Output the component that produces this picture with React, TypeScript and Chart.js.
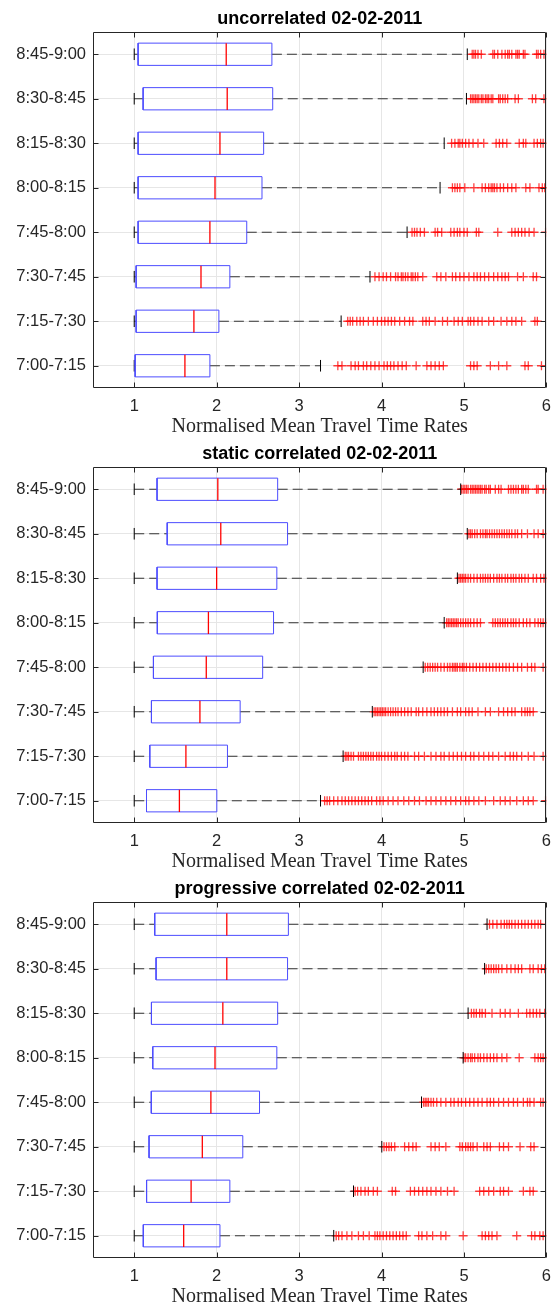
import React, { useEffect, useRef } from 'react';
import { Chart, registerables } from 'chart.js';

Chart.register(...registerables);

const categories = ['7:00-7:15', '7:15-7:30', '7:30-7:45', '7:45-8:00', '8:00-8:15', '8:15-8:30', '8:30-8:45', '8:45-9:00'];
const xTickValues = [1, 2, 3, 4, 5, 6];
const xAxisTitle = 'Normalised Mean Travel Time Rates';
const panelTitles = ['uncorrelated 02-02-2011', 'static correlated 02-02-2011', 'progressive correlated 02-02-2011'];

// ---------- uncorrelated ----------
const uncorrelatedLower = [1, 1, 1, 1, 1, 1, 1, 1];
const uncorrelatedQ1 = [1.011, 1.023, 1.023, 1.047, 1.047, 1.047, 1.108, 1.047];
const uncorrelatedMedian = [1.615, 1.724, 1.81, 1.918, 1.98, 2.04, 2.128, 2.116];
const uncorrelatedQ3 = [1.918, 2.027, 2.16, 2.365, 2.55, 2.57, 2.68, 2.67];
const uncorrelatedUpper = [3.26, 3.51, 3.86, 4.31, 4.71, 4.76, 5.03, 5.04];
const uncorrelatedOutliers = [
  [3.47, 3.52, 3.63, 3.68, 3.72, 3.78, 3.82, 3.87, 3.92, 3.97, 4.03, 4.07, 4.11, 4.15, 4.2, 4.25, 4.3, 4.42, 4.55, 4.6, 4.65, 4.7, 4.75, 5.08, 5.12, 5.16, 5.32, 5.42, 5.52, 5.74, 5.78, 5.94],
  [3.59, 3.62, 3.65, 3.7, 3.74, 3.78, 3.84, 3.9, 3.95, 4.0, 4.04, 4.08, 4.12, 4.16, 4.22, 4.28, 4.34, 4.38, 4.5, 4.54, 4.58, 4.65, 4.74, 4.8, 4.88, 4.93, 4.98, 5.05, 5.08, 5.12, 5.17, 5.22, 5.3, 5.36, 5.45, 5.52, 5.58, 5.63, 5.7, 5.86, 5.89],
  [3.92, 3.97, 4.02, 4.06, 4.11, 4.17, 4.2, 4.24, 4.26, 4.29, 4.32, 4.36, 4.38, 4.41, 4.44, 4.5, 4.67, 4.72, 4.78, 4.86, 4.9, 4.95, 5.0, 5.06, 5.12, 5.16, 5.2, 5.25, 5.3, 5.36, 5.41, 5.46, 5.5, 5.54, 5.65, 5.72, 5.84, 5.88],
  [4.37, 4.4, 4.43, 4.47, 4.52, 4.65, 4.68, 4.73, 4.84, 4.88, 4.92, 4.95, 5.0, 5.04, 5.15, 5.18, 5.41, 5.58, 5.62, 5.66, 5.7, 5.74, 5.79, 5.85, 5.99],
  [4.86, 4.89, 4.92, 4.95, 5.01, 5.12, 5.22, 5.26, 5.3, 5.33, 5.35, 5.37, 5.4, 5.44, 5.48, 5.53, 5.58, 5.63, 5.75, 5.8, 5.91, 5.95, 5.98],
  [4.85, 4.89, 4.93, 4.95, 4.98, 5.02, 5.06, 5.11, 5.17, 5.24, 5.39, 5.43, 5.47, 5.52, 5.67, 5.72, 5.75, 5.85, 5.89, 5.93, 5.96],
  [5.08, 5.1, 5.12, 5.14, 5.16, 5.18, 5.21, 5.23, 5.26, 5.28, 5.3, 5.33, 5.35, 5.42, 5.44, 5.47, 5.5, 5.53, 5.62, 5.66, 5.83, 5.87, 5.97],
  [5.1, 5.12, 5.14, 5.17, 5.21, 5.35, 5.37, 5.41, 5.46, 5.5, 5.53, 5.55, 5.58, 5.63, 5.65, 5.67, 5.72, 5.74, 5.88, 5.9, 5.93, 5.97],
];

// ---------- static correlated ----------
const staticLower = [1, 1, 1, 1, 1, 1, 1, 1];
const staticQ1 = [1.149, 1.189, 1.209, 1.233, 1.28, 1.277, 1.4, 1.277];
const staticMedian = [1.548, 1.627, 1.797, 1.874, 1.9, 2.0, 2.05, 2.014];
const staticQ3 = [2.002, 2.131, 2.285, 2.558, 2.69, 2.73, 2.86, 2.74];
const staticUpper = [3.26, 3.534, 3.888, 4.505, 4.76, 4.92, 5.04, 4.96];
const staticOutliers = [
  [3.31, 3.34, 3.37, 3.42, 3.47, 3.52, 3.56, 3.6, 3.64, 3.68, 3.72, 3.76, 3.8, 3.84, 3.88, 3.94, 3.98, 4.02, 4.08, 4.14, 4.2, 4.27, 4.33, 4.4, 4.46, 4.54, 4.6, 4.66, 4.72, 4.78, 4.84, 4.9, 4.96, 5.02, 5.06, 5.12, 5.18, 5.26, 5.36, 5.44, 5.5, 5.56, 5.64, 5.72, 5.78, 5.84, 5.99],
  [3.56, 3.58, 3.6, 3.63, 3.66, 3.72, 3.75, 3.78, 3.81, 3.84, 3.87, 3.9, 3.94, 3.97, 4.0, 4.04, 4.08, 4.12, 4.16, 4.19, 4.24, 4.28, 4.32, 4.4, 4.45, 4.52, 4.6, 4.66, 4.72, 4.76, 4.82, 4.87, 4.92, 4.97, 5.02, 5.08, 5.12, 5.18, 5.24, 5.3, 5.35, 5.42, 5.5, 5.56, 5.6, 5.64, 5.7, 5.78, 5.85, 5.96],
  [3.91, 3.93, 3.95, 3.97, 3.99, 4.01, 4.03, 4.05, 4.08, 4.11, 4.14, 4.17, 4.2, 4.24, 4.28, 4.32, 4.36, 4.42, 4.45, 4.5, 4.55, 4.6, 4.64, 4.68, 4.72, 4.76, 4.8, 4.86, 4.92, 4.96, 5.02, 5.06, 5.1, 5.17, 5.26, 5.32, 5.42, 5.48, 5.53, 5.58, 5.62, 5.7, 5.74, 5.77, 5.8, 5.84],
  [4.53, 4.56, 4.59, 4.62, 4.65, 4.68, 4.72, 4.76, 4.8, 4.83, 4.86, 4.88, 4.9, 4.92, 4.95, 4.98, 5.0, 5.03, 5.07, 5.11, 5.15, 5.19, 5.23, 5.27, 5.31, 5.35, 5.39, 5.43, 5.47, 5.51, 5.55, 5.6, 5.65, 5.7, 5.77, 5.82, 5.86, 5.96],
  [4.79, 4.81, 4.83, 4.85, 4.87, 4.89, 4.91, 4.93, 4.96, 4.99, 5.02, 5.05, 5.08, 5.12, 5.16, 5.2, 5.35, 5.38, 5.41, 5.44, 5.47, 5.5, 5.53, 5.57, 5.6, 5.63, 5.67, 5.72, 5.76, 5.8, 5.86, 5.9, 5.93, 5.96, 5.99],
  [4.94, 4.96, 4.98, 5.0, 5.02, 5.05, 5.08, 5.12, 5.16, 5.2, 5.23, 5.26, 5.29, 5.32, 5.36, 5.4, 5.43, 5.46, 5.5, 5.53, 5.57, 5.6, 5.63, 5.67, 5.7, 5.74, 5.78, 5.84, 5.88, 5.93, 5.97, 5.99],
  [5.06, 5.08, 5.1, 5.13, 5.16, 5.2, 5.23, 5.26, 5.28, 5.31, 5.34, 5.37, 5.4, 5.43, 5.46, 5.49, 5.52, 5.55, 5.58, 5.62, 5.65, 5.7, 5.77, 5.85, 5.9, 5.96],
  [4.97, 4.99, 5.01, 5.03, 5.05, 5.08, 5.1, 5.12, 5.14, 5.16, 5.18, 5.2, 5.22, 5.25, 5.27, 5.3, 5.32, 5.38, 5.42, 5.45, 5.54, 5.57, 5.6, 5.63, 5.66, 5.7, 5.72, 5.75, 5.78, 5.88, 5.9, 5.96, 5.99],
];

// ---------- progressive correlated ----------
const progressiveLower = [1, 1, 1, 1, 1, 1, 1, 1];
const progressiveQ1 = [1.11, 1.15, 1.18, 1.207, 1.225, 1.209, 1.265, 1.249];
const progressiveMedian = [1.6, 1.69, 1.826, 1.93, 1.98, 2.075, 2.123, 2.123];
const progressiveQ3 = [2.04, 2.16, 2.317, 2.52, 2.73, 2.74, 2.86, 2.87];
const progressiveUpper = [3.42, 3.66, 4.003, 4.485, 4.99, 5.05, 5.25, 5.28];
const progressiveOutliers = [
  [3.45, 3.48, 3.52, 3.58, 3.64, 3.72, 3.78, 3.85, 3.92, 3.95, 3.98, 4.02, 4.06, 4.1, 4.14, 4.18, 4.22, 4.26, 4.3, 4.45, 4.49, 4.55, 4.62, 4.72, 4.78, 4.99, 5.22, 5.26, 5.3, 5.34, 5.4, 5.64, 5.82, 5.86, 5.92, 5.96],
  [3.68, 3.71, 3.75, 3.8, 3.84, 3.9, 3.95, 4.13, 4.17, 4.35, 4.4, 4.45, 4.5, 4.55, 4.6, 4.66, 4.72, 4.8, 4.88, 5.19, 5.24, 5.3, 5.36, 5.44, 5.48, 5.54, 5.72, 5.8, 5.84],
  [4.03, 4.06, 4.09, 4.12, 4.16, 4.28, 4.33, 4.38, 4.42, 4.6, 4.65, 4.7, 4.78, 4.95, 4.98, 5.02, 5.05, 5.08, 5.11, 5.16, 5.24, 5.28, 5.32, 5.43, 5.48, 5.54, 5.68, 5.81, 5.85],
  [4.51, 4.53, 4.55, 4.57, 4.6, 4.63, 4.67, 4.72, 4.78, 4.84, 4.88, 4.93, 4.97, 5.02, 5.07, 5.12, 5.17, 5.22, 5.28, 5.32, 5.36, 5.42, 5.48, 5.54, 5.6, 5.65, 5.72, 5.77, 5.8, 5.85, 5.93, 5.96],
  [5.0, 5.02, 5.05, 5.08, 5.1, 5.13, 5.17, 5.2, 5.24, 5.28, 5.32, 5.36, 5.4, 5.46, 5.52, 5.67, 5.86, 5.9, 5.93, 5.96, 5.99],
  [5.09, 5.12, 5.15, 5.19, 5.22, 5.26, 5.34, 5.44, 5.5, 5.56, 5.66, 5.76, 5.8, 5.84, 5.88, 5.92, 5.98],
  [5.27, 5.3, 5.33, 5.36, 5.39, 5.42, 5.46, 5.52, 5.57, 5.62, 5.66, 5.7, 5.8, 5.84, 5.9, 5.94, 5.98],
  [5.31, 5.35, 5.4, 5.45, 5.49, 5.52, 5.55, 5.58, 5.62, 5.66, 5.7, 5.74, 5.78, 5.82, 5.86, 5.9, 5.93],
];

const panels = [
  { title: panelTitles[0], lower: uncorrelatedLower, q1: uncorrelatedQ1, median: uncorrelatedMedian, q3: uncorrelatedQ3, upper: uncorrelatedUpper, outliers: uncorrelatedOutliers },
  { title: panelTitles[1], lower: staticLower, q1: staticQ1, median: staticMedian, q3: staticQ3, upper: staticUpper, outliers: staticOutliers },
  { title: panelTitles[2], lower: progressiveLower, q1: progressiveQ1, median: progressiveMedian, q3: progressiveQ3, upper: progressiveUpper, outliers: progressiveOutliers },
];

const AXIS_COLOR = '#262626';
const GRID_COLOR = '#e6e6e6';
const BOX_HALF = 0.25;
const CAP_HALF = 0.13;

const gap = () => ({ x: null as any, y: null as any });

function buildDatasets(p: typeof panels[number]) {
  const whiskers: any[] = [];
  const boxes: any[] = [];
  const medians: any[] = [];
  const caps: any[] = [];
  const outl: any[] = [];
  p.q1.forEach((q1, k) => {
    const y = k + 1;
    const q3 = p.q3[k];
    const lo = p.lower[k];
    const hi = p.upper[k];
    const m = p.median[k];
    whiskers.push({ x: lo, y }, { x: q1, y }, gap(), { x: q3, y }, { x: hi, y }, gap());
    boxes.push({ x: q1, y: y - BOX_HALF }, { x: q3, y: y - BOX_HALF }, { x: q3, y: y + BOX_HALF }, { x: q1, y: y + BOX_HALF }, { x: q1, y: y - BOX_HALF }, gap());
    medians.push({ x: m, y: y - BOX_HALF }, { x: m, y: y + BOX_HALF }, gap());
    caps.push({ x: lo, y: y - CAP_HALF }, { x: lo, y: y + CAP_HALF }, gap(), { x: hi, y: y - CAP_HALF }, { x: hi, y: y + CAP_HALF }, gap());
    p.outliers[k].forEach((v) => outl.push({ x: v, y }));
  });
  const lineBase = { type: 'line', showLine: true, pointRadius: 0, pointHoverRadius: 0, spanGaps: false, fill: false, tension: 0 };
  return [
    { ...lineBase, label: 'median', data: medians, borderColor: '#ff0000', borderWidth: 1.3 },
    { ...lineBase, label: 'box', data: boxes, borderColor: '#4d4dff', borderWidth: 1 },
    { ...lineBase, label: 'caps', data: caps, borderColor: '#000000', borderWidth: 1 },
    { ...lineBase, label: 'whiskers', data: whiskers, borderColor: '#333333', borderWidth: 1, borderDash: [10, 5] },
    { type: 'scatter', label: 'outliers', data: outl, pointStyle: 'cross', pointRadius: 4.5, pointHoverRadius: 4.5, pointBorderWidth: 1.3, borderColor: 'rgba(255,0,0,0.75)', backgroundColor: 'rgba(255,0,0,0.75)', showLine: false },
  ];
}

const framePlugin = {
  id: 'matlabFrame',
  afterDatasetsDraw(chart: any) {
    const { ctx, chartArea: a, scales } = chart;
    const L = Math.round(a.left) + 0.5;
    const R = Math.round(a.right) - 0.5;
    const T = Math.round(a.top) + 0.5;
    const B = Math.round(a.bottom) - 0.5;
    ctx.save();
    ctx.strokeStyle = AXIS_COLOR;
    ctx.lineWidth = 1;
    ctx.setLineDash([]);
    ctx.beginPath();
    ctx.rect(L, T, R - L, B - T);
    xTickValues.forEach((v) => {
      const px = Math.round(scales.x.getPixelForValue(v)) + 0.5;
      ctx.moveTo(px, B);
      ctx.lineTo(px, B - 5);
      ctx.moveTo(px, T);
      ctx.lineTo(px, T + 5);
    });
    categories.forEach((_, i) => {
      const py = Math.round(scales.y.getPixelForValue(i + 1)) + 0.5;
      ctx.moveTo(L, py);
      ctx.lineTo(L + 5, py);
      ctx.moveTo(R, py);
      ctx.lineTo(R - 5, py);
    });
    ctx.stroke();
    ctx.restore();
  },
};

function Panel({ panel }: { panel: typeof panels[number] }) {
  const ref = useRef<HTMLCanvasElement>(null);
  useEffect(() => {
    const chart = new Chart(ref.current as HTMLCanvasElement, {
      type: 'scatter',
      data: { datasets: buildDatasets(panel) as any },
      options: {
        animation: false,
        responsive: false,
        devicePixelRatio: 1,
        events: [],
        layout: { padding: { left: 0, right: 12, top: 0, bottom: 0 } },
        plugins: {
          legend: { display: false },
          tooltip: { enabled: false },
          title: {
            display: true,
            text: panel.title,
            fullSize: false,
            color: '#000000',
            font: { family: 'Liberation Sans', size: 18, weight: 'bold' },
            padding: { top: 8, bottom: 2.4 },
          },
        },
        scales: {
          x: {
            type: 'linear',
            min: 0.5,
            max: 6,
            afterBuildTicks: (s: any) => {
              s.ticks = xTickValues.map((v) => ({ value: v }));
            },
            afterFit: (s: any) => {
              s.height = 47;
            },
            grid: { color: GRID_COLOR, drawTicks: false },
            border: { display: false },
            ticks: {
              autoSkip: false,
              maxRotation: 0,
              padding: 9,
              color: AXIS_COLOR,
              font: { family: 'Liberation Sans', size: 16.5 },
              callback: (v: any) => String(v),
            },
            title: {
              display: true,
              text: xAxisTitle,
              color: AXIS_COLOR,
              font: { family: 'Liberation Serif', size: 20, lineHeight: 1 },
              padding: { top: 0, bottom: -2 },
            },
          },
          y: {
            type: 'linear',
            min: 0.5,
            max: 8.5,
            afterBuildTicks: (s: any) => {
              s.ticks = categories.map((_, i) => ({ value: i + 1 }));
            },
            afterFit: (s: any) => {
              s.width = 93;
            },
            grid: { color: GRID_COLOR, drawTicks: false },
            border: { display: false },
            ticks: {
              autoSkip: false,
              padding: 7,
              color: AXIS_COLOR,
              font: { family: 'Liberation Sans', size: 16.5 },
              callback: (v: any) => categories[Math.round(Number(v)) - 1] ?? '',
            },
          },
        },
      } as any,
      plugins: [framePlugin],
    });
    return () => chart.destroy();
  }, [panel]);
  return <canvas ref={ref} width={560} height={435} style={{ display: 'block', width: 560, height: 435 }} />;
}

export default function App() {
  return (
    <div style={{ position: 'absolute', left: 0, top: 0, width: 560, height: 1307, background: '#ffffff' }}>
      {panels.map((p) => (
        <Panel key={p.title} panel={p} />
      ))}
    </div>
  );
}
